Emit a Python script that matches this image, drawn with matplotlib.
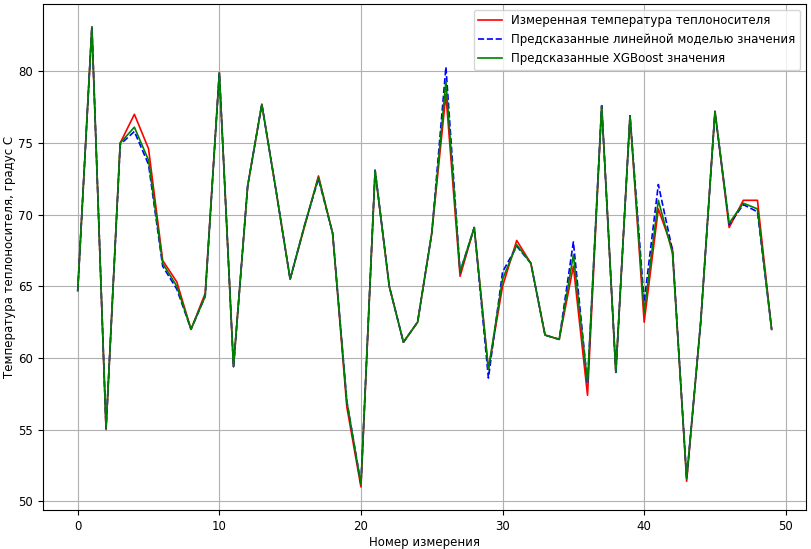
import numpy as np
import matplotlib
matplotlib.use('Agg')
import matplotlib.pyplot as plt


# measured values
y_true = [64.7, 83.1, 55.0, 75.0, 77.0, 74.6, 66.8, 65.3, 62.0, 64.5,
          79.9, 59.4, 72.0, 77.7, 71.7, 65.5, 69.1, 72.7, 68.7, 56.6,
          51.0, 73.0, 65.0, 61.1, 62.5, 68.7, 78.4, 65.7, 69.1, 59.2,
          65.0, 68.2, 66.6, 61.6, 61.3, 66.4, 57.4, 77.6, 59.0, 76.9,
          62.5, 70.4, 67.6, 51.4, 62.6, 77.2, 69.1, 71.0, 71.0, 62.0]

# linear model
y_lin = [64.7, 83.1, 55.1, 74.9, 75.8, 73.5, 66.4, 64.8, 62.0, 64.3,
         79.9, 59.4, 72.0, 77.7, 71.7, 65.5, 69.2, 72.5, 68.7, 57.0,
         51.2, 73.1, 65.0, 61.1, 62.5, 68.7, 80.3, 66.0, 69.1, 58.6,
         66.0, 67.8, 66.6, 61.6, 61.3, 68.1, 58.2, 77.6, 59.0, 76.9,
         63.9, 72.1, 67.5, 51.6, 62.6, 77.2, 69.3, 70.7, 70.2, 62.0]

# xgboost
y_xgb = [64.7, 83.1, 55.1, 75.0, 76.1, 73.8, 66.6, 65.0, 62.0, 64.3,
         79.9, 59.4, 72.0, 77.7, 71.7, 65.5, 69.2, 72.6, 68.7, 57.0,
         51.2, 73.1, 65.0, 61.1, 62.5, 68.7, 79.3, 66.0, 69.1, 59.2,
         65.5, 67.9, 66.6, 61.6, 61.3, 67.2, 58.3, 77.6, 59.0, 76.9,
         63.2, 71.0, 67.3, 51.6, 62.6, 77.2, 69.4, 70.8, 70.4, 62.0]

x = np.arange(len(y_true))

plt.rcParams['font.size'] = 8.5
fig = plt.figure(figsize=(8.12, 5.49), dpi=100)
plt.subplots_adjust(left=0.053, right=0.993, top=0.993, bottom=0.071)
plt.plot(x, y_true, 'r-', lw=1.2, label='Измеренная температура теплоносителя')
plt.plot(x, y_lin, 'b--', lw=1.2, label='Предсказанные линейной моделью значения')
plt.plot(x, y_xgb, 'g-', lw=1.2, label='Предсказанные XGBoost значения')
plt.grid(True)
plt.xlabel('Номер измерения', labelpad=2)
plt.ylabel('Температура теплоносителя, градус С', labelpad=2)
plt.legend(loc='upper right')
plt.savefig('out.png', dpi=100)
